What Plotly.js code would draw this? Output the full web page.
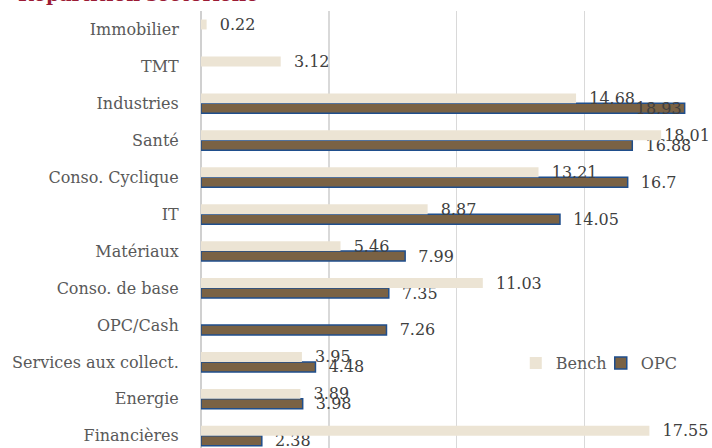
<!DOCTYPE html>
<html>
<head>
<meta charset="utf-8">
<script src="https://cdn.plot.ly/plotly-3.0.1.min.js"></script>
<style>html,body{margin:0;padding:0;background:#fff;}#chart{width:712px;height:448px;}</style>
</head>
<body>
<div id="chart"></div>
<script>
// Categories listed top to bottom as in the reference
const categories = ["Immobilier", "TMT", "Industries", "Santé", "Conso. Cyclique", "IT",
  "Matériaux", "Conso. de base", "OPC/Cash", "Services aux collect.", "Energie", "Financières"];
const benchValues = [0.22, 3.12, 14.68, 18.01, 13.21, 8.87, 5.46, 11.03, null, 3.95, 3.89, 17.55];
const opcValues   = [null, null, 18.93, 16.88, 16.7, 14.05, 7.99, 7.35, 7.26, 4.48, 3.98, 2.38];
const titleText = "Répartition sectorielle";

const font = "DejaVu Serif";
const catOrder = categories.slice().reverse();
const XMAX = 20;
// labels that would run past the right edge are pulled in (as the reference does)
const lbl = v => (v === null ? "" : (v > 17.8 ? String(v) : "\u00a0\u00a0" + String(v)));
const pos = v => (v !== null && v > 18.5 ? "inside" : "outside");

const opc = {
  type: "bar", orientation: "h", name: "OPC",
  y: categories, x: opcValues,
  text: opcValues.map(lbl), textposition: opcValues.map(pos), insidetextanchor: "end",
  constraintext: "none", cliponaxis: false,
  textfont: {family: font, size: 16, color: "#404040"},
  insidetextfont: {family: font, size: 16, color: "#404040"},
  outsidetextfont: {family: font, size: 16, color: "#404040"},
  marker: {color: "#7A6244", line: {color: "#1F4E8C", width: 1.5}},
  legendrank: 2, hoverinfo: "skip"
};
const bench = {
  type: "bar", orientation: "h", name: "Bench",
  y: categories, x: benchValues,
  text: benchValues.map(lbl), textposition: benchValues.map(pos), insidetextanchor: "end",
  constraintext: "none", cliponaxis: false,
  textfont: {family: font, size: 16, color: "#404040"},
  insidetextfont: {family: font, size: 16, color: "#404040"},
  outsidetextfont: {family: font, size: 16, color: "#404040"},
  marker: {color: "#ECE4D4", line: {width: 0}},
  legendrank: 1, hoverinfo: "skip"
};

const layout = {
  width: 712, height: 448,
  margin: {l: 201, r: 0, t: 11, b: 0, pad: 0},
  paper_bgcolor: "#ffffff", plot_bgcolor: "#ffffff",
  font: {family: font, size: 16, color: "#595959"},
  title: {text: titleText, xref: "container", yref: "container", x: 18/712, xanchor: "left",
          y: 1 - 1/448, yanchor: "bottom",
          font: {family: font, size: 19, color: "#9B1B35", weight: "bold"}},
  barmode: "group", bargap: 0.46, bargroupgap: 0,
  xaxis: {range: [0, XMAX], dtick: 5, tick0: 0, showgrid: true, gridcolor: "#D9D9D9", gridwidth: 1.5,
          zeroline: true, zerolinecolor: "#D0D0D0", zerolinewidth: 2,
          showticklabels: false, ticks: "", showline: false, fixedrange: true},
  yaxis: {type: "category", categoryorder: "array", categoryarray: catOrder,
          range: [-0.33, 11.5], autorange: false, showgrid: false, zeroline: false, showline: false,
          ticks: "outside", ticklen: 18, tickcolor: "rgba(0,0,0,0)",
          tickfont: {family: font, size: 16, color: "#595959"}, fixedrange: true},
  showlegend: true,
  legend: {orientation: "h", x: 0.616, xanchor: "left", y: (448-363)/437, yanchor: "middle",
           bgcolor: "rgba(0,0,0,0)", font: {family: font, size: 16, color: "#595959"},
           itemwidth: 30, entrywidth: 40, entrywidthmode: "pixels", traceorder: "normal"}
};

Plotly.newPlot("chart", [opc, bench], layout, {displayModeBar: false, staticPlot: true});
</script>
</body>
</html>
